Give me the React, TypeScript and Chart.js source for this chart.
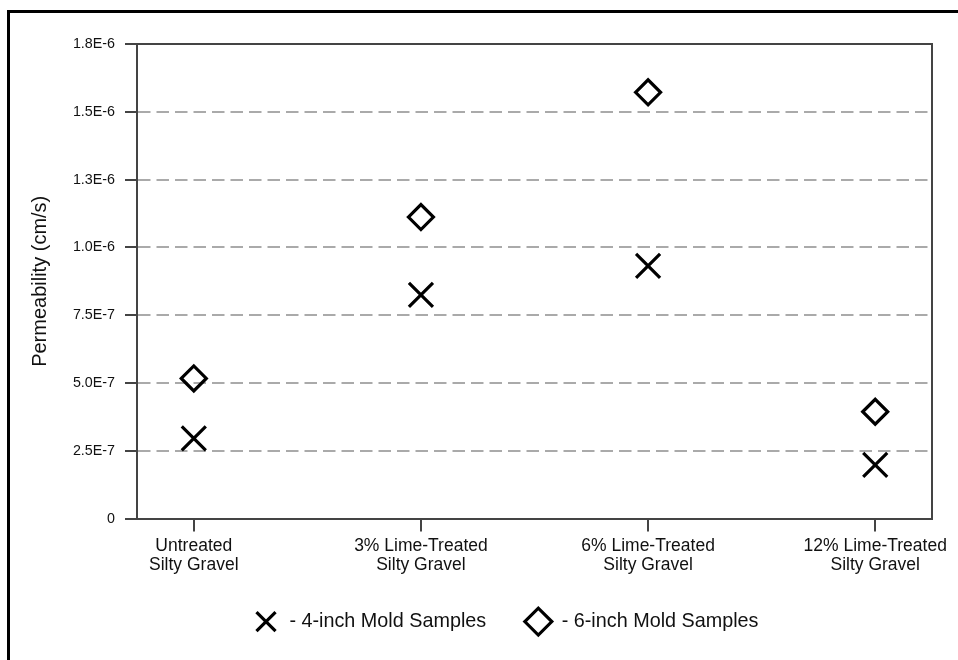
import React, { useEffect, useRef } from 'react';
import { Chart, registerables } from 'chart.js';

Chart.register(...registerables);

// ---- data ----
const categories: string[][] = [
  ['Untreated', 'Silty Gravel'],
  ['3% Lime-Treated', 'Silty Gravel'],
  ['6% Lime-Treated', 'Silty Gravel'],
  ['12% Lime-Treated', 'Silty Gravel'],
];
const categoryPositions = [0, 1, 2, 3];
const fourInchSamples = [2.96e-7, 8.25e-7, 9.32e-7, 1.98e-7];
const sixInchSamples = [5.17e-7, 1.112e-6, 1.572e-6, 3.94e-7];
const yTickValues = [0, 2.5e-7, 5.0e-7, 7.5e-7, 1.0e-6, 1.25e-6, 1.5e-6, 1.75e-6];
const yTickLabels = ['0', '2.5E-7', '5.0E-7', '7.5E-7', '1.0E-6', '1.3E-6', '1.5E-6', '1.8E-6'];
const seriesLabels = ['- 4-inch Mold Samples', '- 6-inch Mold Samples'];
const yAxisTitle = 'Permeability (cm/s)';

const FONT = "'Liberation Sans', Arial, Helvetica, sans-serif";
const AXIS_COLOR = '#444';
const GRID_COLOR = '#aaaaaa';
const TEXT_COLOR = '#111';
const LEGEND_LIFT = 5.5;
const LEGEND_SHIFT_X = 3;

const legendNudge = {
  id: 'legendNudge',
  afterLayout(chart: any) {
    const lg = chart.legend;
    if (lg) {
      lg.top -= LEGEND_LIFT;
      lg.bottom -= LEGEND_LIFT;
      lg.left += LEGEND_SHIFT_X;
      lg.right += LEGEND_SHIFT_X;
    }
  },
};

export default function App() {
  const canvasRef = useRef<HTMLCanvasElement | null>(null);

  useEffect(() => {
    const canvas = canvasRef.current;
    if (!canvas) return;
    const yMax = yTickValues[yTickValues.length - 1];

    const chart = new Chart(canvas, {
      type: 'scatter',
      plugins: [legendNudge],
      data: {
        datasets: [
          {
            label: seriesLabels[0],
            data: categoryPositions.map((x, i) => ({ x, y: fourInchSamples[i] })),
            pointStyle: 'crossRot',
            pointRadius: 17,
            pointHoverRadius: 17,
            borderWidth: 3.2,
            borderColor: '#000',
            backgroundColor: 'rgba(0,0,0,0)',
          },
          {
            label: seriesLabels[1],
            data: categoryPositions.map((x, i) => ({ x, y: sixInchSamples[i] })),
            pointStyle: 'rectRot',
            pointRadius: 12.5,
            pointHoverRadius: 12.5,
            borderWidth: 3.2,
            borderColor: '#000',
            backgroundColor: 'rgba(255,255,255,0)',
          },
        ],
      },
      options: {
        animation: false,
        responsive: false,
        devicePixelRatio: 1,
        layout: { padding: { left: 63, right: 26, top: 31, bottom: 46 } },
        plugins: {
          tooltip: { enabled: false },
          legend: {
            display: true,
            position: 'bottom',
            fullSize: true,
            labels: {
              usePointStyle: true,
              pointStyleWidth: 27,
              boxHeight: 19,
              padding: 38.6,
              color: TEXT_COLOR,
              font: { family: FONT, size: 19.8 },
            },
          },
        },
        scales: {
          x: {
            type: 'linear',
            position: 'bottom',
            min: -0.25,
            max: 3.25,
            afterBuildTicks: (scale: any) => {
              scale.ticks = categoryPositions.map((v) => ({ value: v }));
            },
            afterFit: (scale: any) => {
              scale.height = 60;
            },
            ticks: {
              autoSkip: false,
              maxRotation: 0,
              minRotation: 0,
              padding: 5,
              color: TEXT_COLOR,
              font: { family: FONT, size: 17.5, lineHeight: 19 / 17.5 },
              callback: (value: any) => categories[Math.round(Number(value))] ?? '',
            },
            grid: {
              drawOnChartArea: false,
              drawTicks: true,
              tickLength: 13,
              tickColor: AXIS_COLOR,
              tickWidth: 2,
              color: AXIS_COLOR,
              lineWidth: 2,
            },
            border: { display: true, color: AXIS_COLOR, width: 2 },
          },
          xTop: {
            type: 'linear',
            position: 'top',
            min: 0,
            max: 1,
            display: true,
            afterFit: (scale: any) => {
              scale.height = 0;
            },
            ticks: { display: false },
            grid: { display: false, drawTicks: false },
            border: { display: true, color: AXIS_COLOR, width: 2 },
          },
          y: {
            type: 'linear',
            position: 'left',
            min: 0,
            max: yMax,
            afterBuildTicks: (scale: any) => {
              scale.ticks = yTickValues.map((v) => ({ value: v }));
            },
            afterFit: (scale: any) => {
              scale.width = 64;
            },
            ticks: {
              padding: 10,
              color: TEXT_COLOR,
              font: { family: FONT, size: 14.3 },
              callback: (value: any) => {
                const idx = yTickValues.findIndex((v) => Math.abs(v - Number(value)) < 1e-12);
                return idx >= 0 ? yTickLabels[idx] : '';
              },
            },
            grid: {
              drawOnChartArea: true,
              drawTicks: true,
              tickLength: 12,
              lineWidth: 2,
              tickWidth: 2,
              tickColor: AXIS_COLOR,
              tickBorderDash: [],
              color: (ctx: any) => {
                const v = ctx.tick ? ctx.tick.value : 0;
                if (v <= 0 || v >= yMax - 1e-12) return 'rgba(0,0,0,0)';
                return GRID_COLOR;
              },
            },
            border: { display: true, color: AXIS_COLOR, width: 2, dash: [12.5, 6] },
            title: {
              display: true,
              text: yAxisTitle,
              color: TEXT_COLOR,
              font: { family: FONT, size: 20 },
              padding: { top: -45, bottom: 0 },
            },
          },
          yRight: {
            type: 'linear',
            position: 'right',
            min: 0,
            max: 1,
            display: true,
            afterFit: (scale: any) => {
              scale.width = 0;
            },
            ticks: { display: false },
            grid: { display: false, drawTicks: false },
            border: { display: true, color: AXIS_COLOR, width: 2 },
          },
        },
      },
    } as any);

    return () => {
      chart.destroy();
    };
  }, []);

  return (
    <div
      style={{
        position: 'fixed',
        left: 0,
        top: 0,
        width: 958,
        height: 660,
        overflow: 'hidden',
        background: '#fff',
      }}
    >
      <div
        style={{
          position: 'absolute',
          left: 7,
          top: 10,
          width: 960,
          height: 660,
          borderLeft: '3px solid #000',
          borderTop: '3px solid #000',
        }}
      />
      <canvas
        ref={canvasRef}
        width={948}
        height={680}
        style={{ position: 'absolute', left: 10, top: 13, width: 948, height: 680, display: 'block' }}
      />
    </div>
  );
}
